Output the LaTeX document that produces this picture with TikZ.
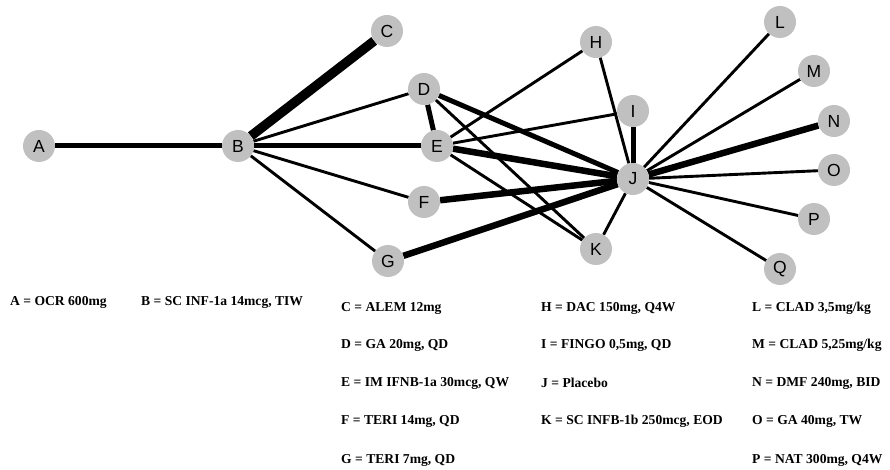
\documentclass[tikz,border=0pt]{standalone}
\usepackage{fontspec}
\setmainfont{Liberation Serif}
\newfontfamily\nodefont{Liberation Sans}
\usetikzlibrary{backgrounds}
\definecolor{nodegray}{RGB}{192,192,192}
\tikzset{
  trt/.style={circle, fill=nodegray, minimum size=32pt, inner sep=0pt, font=\nodefont\fontsize{17.5}{18}\selectfont},
  thinedge/.style={line width=2.9pt},
  midedge/.style={line width=5pt},
  thickedge/.style={line width=6.5pt},
  hugeedge/.style={line width=9.5pt},
  legend/.style={anchor=west, inner sep=0pt, font=\bfseries\fontsize{13.6}{14}\selectfont}
}
\begin{document}
\begin{tikzpicture}[x=1pt,y=-1pt]
\useasboundingbox (0,0) rectangle (890,470);
\node[trt] (A) at (39,146) {A};
\node[trt] (B) at (238,146) {B};
\node[trt] (C) at (387,31) {C};
\node[trt] (D) at (424,89) {D};
\node[trt] (E) at (437,146) {E};
\node[trt] (F) at (424,202) {F};
\node[trt] (G) at (388,261) {G};
\node[trt] (H) at (596,42) {H};
\node[trt] (I) at (633,111) {I};
\node[trt] (J) at (633,179) {J};
\node[trt] (K) at (596,249) {K};
\node[trt] (L) at (780,22) {L};
\node[trt] (M) at (814,71) {M};
\node[trt] (N) at (834,121) {N};
\node[trt] (O) at (834,170) {O};
\node[trt] (P) at (814,219) {P};
\node[trt] (Q) at (780,269) {Q};
\begin{scope}[on background layer]
\draw[midedge] (A) -- (B);
\draw[hugeedge] (B) -- (C);
\draw[thinedge] (B) -- (D);
\draw[midedge] (B) -- (E);
\draw[thinedge] (B) -- (F);
\draw[thinedge] (B) -- (G);
\draw[midedge] (D) -- (E);
\draw[midedge] (D) -- (J);
\draw[thinedge] (D) -- (K);
\draw[thinedge] (E) -- (H);
\draw[thinedge] (E) -- (I);
\draw[thickedge] (E) -- (J);
\draw[thinedge] (E) -- (K);
\draw[thickedge] (F) -- (J);
\draw[thickedge] (G) -- (J);
\draw[thinedge] (H) -- (J);
\draw[midedge] (I) -- (J);
\draw[thinedge] (K) -- (J);
\draw[thinedge] (L) -- (J);
\draw[thinedge] (M) -- (J);
\draw[thickedge] (N) -- (J);
\draw[thinedge] (O) -- (J);
\draw[thinedge] (P) -- (J);
\draw[thinedge] (Q) -- (J);
\end{scope}
\node[legend] (lA) at (10,302) {A = OCR 600mg};
\node[legend] (lB) at (141,302) {B = SC INF-1a 14mcg, TIW};
\node[legend] (lC) at (341,308) {C = ALEM 12mg};
\node[legend] (lD) at (341,345) {D = GA 20mg, QD};
\node[legend] (lE) at (341,383) {E = IM IFNB-1a 30mcg, QW};
\node[legend] (lF) at (341,421) {F = TERI 14mg, QD};
\node[legend] (lG) at (341,460) {G = TERI 7mg, QD};
\node[legend] (lH) at (541,308) {H = DAC 150mg, Q4W};
\node[legend] (lI) at (541,345) {I = FINGO 0,5mg, QD};
\node[legend] (lJ) at (541,383) {J = Placebo};
\node[legend] (lK) at (541,421) {K = SC INFB-1b 250mcg, EOD};
\node[legend] (lL) at (752,308) {L = CLAD 3,5mg/kg};
\node[legend] (lM) at (752,345) {M = CLAD 5,25mg/kg};
\node[legend] (lN) at (752,383) {N = DMF 240mg, BID};
\node[legend] (lO) at (752,421) {O = GA 40mg, TW};
\node[legend] (lP) at (752,460) {P = NAT 300mg, Q4W};
\end{tikzpicture}
\end{document}
